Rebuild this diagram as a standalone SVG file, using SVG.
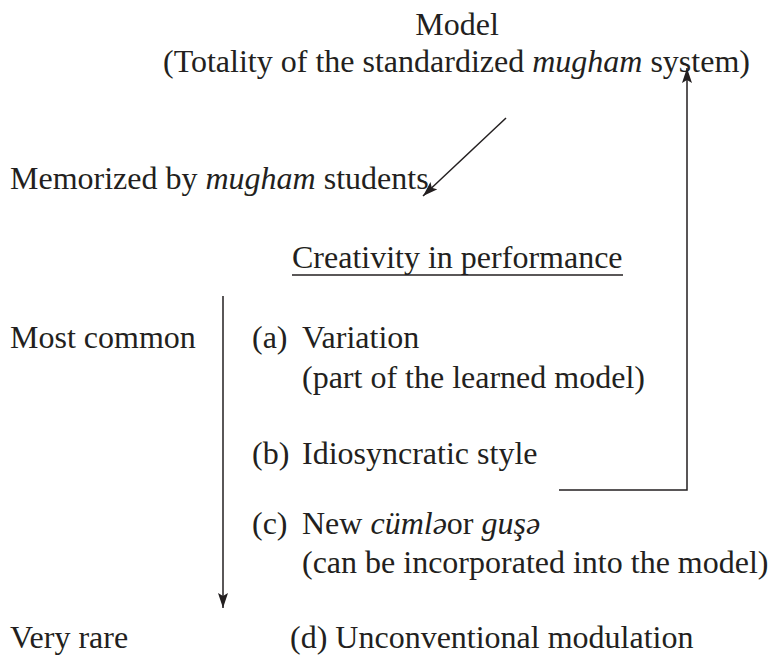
<svg xmlns="http://www.w3.org/2000/svg" width="772" height="655" viewBox="0 0 772 655">
<style>
text{font-family:"Liberation Serif","Times New Roman",serif;font-size:32px;fill:#231f20}
.i{font-style:italic}
.ln{stroke:#231f20;stroke-width:1.5;fill:none}
</style>
<defs>
<marker id="ah" viewBox="0 0 15 10" refX="15" refY="5" markerWidth="15" markerHeight="10" markerUnits="userSpaceOnUse" orient="auto">
<path d="M0,0 L15,5 L0,10 L3,5 Z" fill="#231f20"/>
</marker>
</defs>
<rect width="772" height="655" fill="#fff"/>
<g id="model">
<text x="457" y="35" text-anchor="middle">Model</text>
<text x="163" y="72">(Totality of the standardized <tspan class="i">mugham</tspan> system)</text>
</g>
<g id="memorized">
<text x="10" y="189">Memorized by <tspan class="i">mugham</tspan> students</text>
</g>
<g id="creativity">
<text x="292" y="268">Creativity in performance</text>
<line class="ln" x1="292" y1="275" x2="623" y2="275" stroke-width="1.4"/>
</g>
<g id="most-common"><text x="10" y="348">Most common</text></g>
<g id="very-rare"><text x="10" y="648">Very rare</text></g>
<g id="item-a">
<text x="252" y="348">(a)</text><text x="302" y="348">Variation</text>
<text x="302" y="388">(part of the learned model)</text>
</g>
<g id="item-b">
<text x="252" y="464">(b)</text><text x="302" y="464">Idiosyncratic style</text>
</g>
<g id="item-c">
<text x="252" y="534">(c)</text><text x="302" y="534">New <tspan class="i">cümlə</tspan>or <tspan class="i">guşə</tspan></text>
<text x="302" y="573">(can be incorporated into the model)</text>
</g>
<g id="item-d">
<text x="290" y="648">(d) Unconventional modulation</text>
</g>
<g id="connectors">
<line class="ln" x1="506" y1="118" x2="423" y2="196" marker-end="url(#ah)"/>
<line class="ln" x1="223" y1="296" x2="223" y2="608" marker-end="url(#ah)"/>
<polyline class="ln" points="559,490 687,490 687,68" marker-end="url(#ah)"/>
</g>
</svg>
